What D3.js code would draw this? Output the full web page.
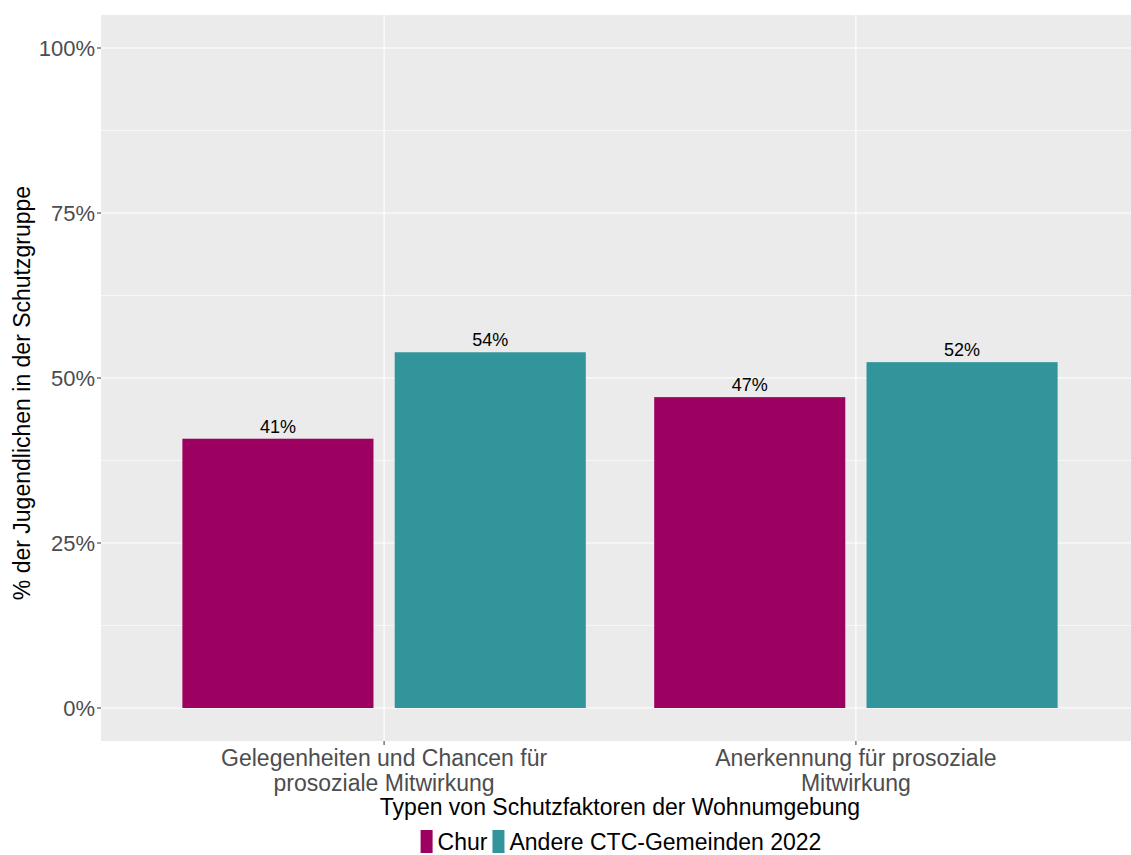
<!DOCTYPE html>
<html>
<head>
<meta charset="utf-8">
<script src="https://cdn.jsdelivr.net/npm/d3@7"></script>
<style>
  body { margin:0; background:#fff; }
  text { font-family: "Liberation Sans", Arial, sans-serif; }
</style>
</head>
<body>
<div id="canvas"></div>
<script>
// data
var categories = ['Gelegenheiten und Chancen für|prosoziale Mitwirkung', 'Anerkennung für prosoziale|Mitwirkung'];
var groups = ['Chur', 'Andere CTC-Gemeinden 2022'];
var churValues = [40.8, 47.1];
var otherValues = [53.9, 52.4];
var yTicks = [0, 25, 50, 75, 100];
var colors = ['#9C0060', '#31959B'];

var W = 1131, H = 855;
var m = {t:15, r:-8, b:114, l:101};
var w = W - m.l - m.r,
    h = H - m.t - m.b;

var svg = d3.select('#canvas').append('svg')
    .attr('width', W).attr('height', H);

var plot = svg.append('g')
    .attr('transform', 'translate(' + m.l + ',' + m.t + ')');

// ggplot-like discrete scale: positions 1..n, expanded 0.6
var scaleX = d3.scaleLinear().domain([0.4, categories.length + 0.6]).range([0, w]);
var scaleY = d3.scaleLinear().domain([-5, 105]).range([h, 0]);

plot.append('rect').attr('width', w).attr('height', h).attr('fill', '#EBEBEB');

// minor grid
[12.5, 37.5, 62.5, 87.5].forEach(function(v){
  plot.append('line').attr('x1',0).attr('x2',w)
    .attr('y1',scaleY(v)).attr('y2',scaleY(v))
    .attr('stroke','#fff').attr('stroke-width',0.6);
});
// major grid
yTicks.forEach(function(v){
  plot.append('line').attr('x1',0).attr('x2',w)
    .attr('y1',scaleY(v)).attr('y2',scaleY(v))
    .attr('stroke','#fff').attr('stroke-width',1.2);
});
categories.forEach(function(c,i){
  plot.append('line').attr('y1',0).attr('y2',h)
    .attr('x1',scaleX(i+1)).attr('x2',scaleX(i+1))
    .attr('stroke','#fff').attr('stroke-width',1.2);
});

// bars
var barW = 0.405, dodge = 0.45;
var series = [churValues, otherValues];
series.forEach(function(vals, s){
  vals.forEach(function(v, i){
    var cx = (i+1) + (s === 0 ? -dodge/2 : dodge/2);
    plot.append('rect')
      .attr('x', scaleX(cx - barW/2))
      .attr('width', scaleX(cx + barW/2) - scaleX(cx - barW/2))
      .attr('y', scaleY(v))
      .attr('height', scaleY(0) - scaleY(v))
      .attr('fill', colors[s]);
    plot.append('text')
      .attr('x', scaleX(cx))
      .attr('y', scaleY(v) - 6)
      .attr('text-anchor','middle')
      .style('font-size','18px')
      .attr('fill','#000')
      .text(Math.round(v) + '%');
  });
});

// y axis
yTicks.forEach(function(v){
  plot.append('line').attr('x1',-4).attr('x2',0)
    .attr('y1',scaleY(v)).attr('y2',scaleY(v))
    .attr('stroke','#333').attr('stroke-width',1);
  plot.append('text').attr('x',-6).attr('y',scaleY(v)+8)
    .attr('text-anchor','end')
    .style('font-size','22px').attr('fill','#4D4D4D')
    .text(v + '%');
});

// x axis
categories.forEach(function(c,i){
  var x = scaleX(i+1);
  plot.append('line').attr('x1',x).attr('x2',x).attr('y1',h).attr('y2',h+4)
    .attr('stroke','#333');
  var t = plot.append('text').attr('text-anchor','middle')
    .style('font-size','23px').attr('fill','#4D4D4D');
  c.split('|').forEach(function(line, k){
    t.append('tspan').attr('x', x).attr('y', h + 25 + k*25).text(line);
  });
});

// axis titles
var cxTitle = 620;
svg.append('text').attr('x', cxTitle).attr('y', 815)
  .attr('text-anchor','middle').style('font-size','23px').attr('fill','#000')
  .text('Typen von Schutzfaktoren der Wohnumgebung');

svg.append('text')
  .attr('transform','translate(30,' + (m.t + h/2 + 15) + ') rotate(-90)')
  .attr('text-anchor','middle').style('font-size','23px').attr('fill','#000')
  .text('% der Jugendlichen in der Schutzgruppe');

// legend
var legend = svg.append('g');
var lx = 0, ly = 830;
groups.forEach(function(g, i){
  var item = legend.append('g');
  item.append('rect').attr('x', lx).attr('y', ly).attr('width', 12).attr('height', 23)
    .attr('fill', colors[i]);
  var txt = item.append('text').attr('x', lx + 17).attr('y', ly + 20)
    .style('font-size','23px').attr('fill','#000').text(g);
  lx += 17 + txt.node().getComputedTextLength() + 5;
});
var lw = lx - 5;
legend.attr('transform', 'translate(' + (cxTitle + 1 - lw/2) + ',0)');
</script>
</body>
</html>
